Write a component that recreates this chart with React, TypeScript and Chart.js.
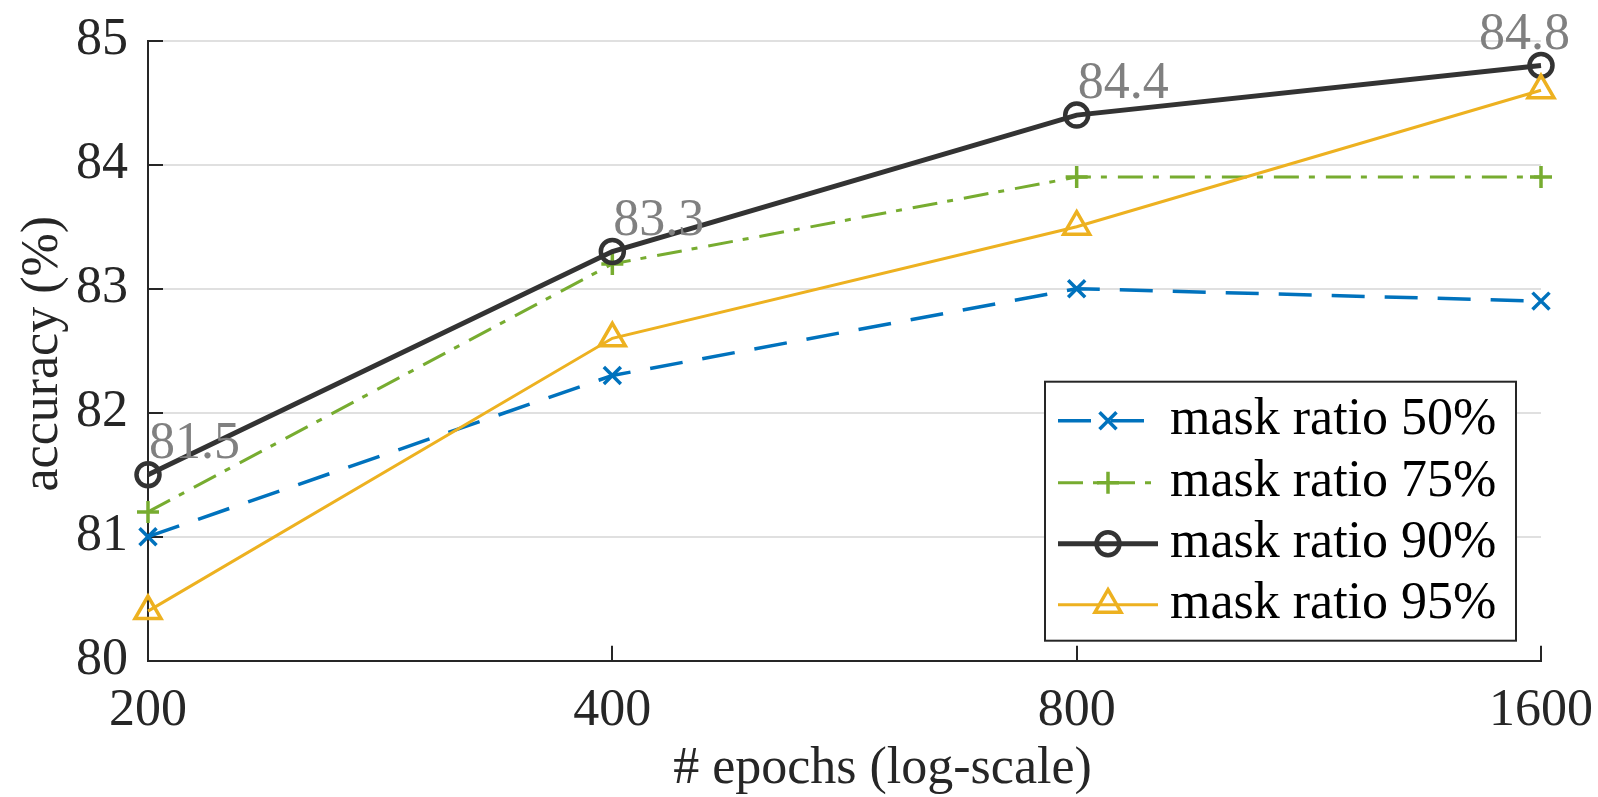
import React, { useEffect, useRef } from 'react';
import { Chart, registerables } from 'chart.js';

Chart.register(...registerables);

// ---- data ----
const epochs = [200, 400, 800, 1600];
const maskRatio50 = [81.0, 82.3, 83.0, 82.9];
const maskRatio75 = [81.2, 83.2, 83.9, 83.9];
const maskRatio90 = [81.5, 83.3, 84.4, 84.8];
const maskRatio95 = [80.4, 82.6, 83.5, 84.6];
const seriesLabels = ['mask ratio 50%', 'mask ratio 75%', 'mask ratio 90%', 'mask ratio 95%'];
const xTickValues = [200, 400, 800, 1600];
const yTickValues = [80, 81, 82, 83, 84, 85];
const annotatedSeries = maskRatio90;
const xAxisTitle = '# epochs (log-scale)';
const yAxisTitle = 'accuracy (%)';

// ---- styles ----
const FONT = '"Liberation Serif", "Times New Roman", Times, serif';
const AXIS_COLOR = '#262626';
const GRID_COLOR = '#e0e0e0';
const LABEL_GRAY = '#808080';
const FONT_SIZE = 52;
const TARGET_AREA = { left: 148, top: 40.7, right: 1541, bottom: 660.7 };

const seriesStyles = [
  { color: '#0072BD', dash: [33, 20], width: 3.5, pointStyle: 'crossRot', radius: 12, pointWidth: 3.5, order: 4, legendEnd: 100 },
  { color: '#77AC30', dash: [25, 10, 6, 11], width: 3, pointStyle: 'cross', radius: 11, pointWidth: 3.5, order: 3, legendEnd: 113 },
  { color: '#333333', dash: [], width: 5, pointStyle: 'circle', radius: 11.5, pointWidth: 4.5, order: 2, legendEnd: 113 },
  { color: '#EDB120', dash: [], width: 3, pointStyle: 'triangle', radius: 15, pointWidth: 3.5, order: 1, legendEnd: 113 },
];
const seriesValues = [maskRatio50, maskRatio75, maskRatio90, maskRatio95];

function drawMarker(ctx: CanvasRenderingContext2D, style: string, r: number, x: number, y: number) {
  ctx.beginPath();
  if (style === 'circle') {
    ctx.arc(x, y, r, 0, Math.PI * 2);
  } else if (style === 'cross') {
    ctx.moveTo(x - r, y);
    ctx.lineTo(x + r, y);
    ctx.moveTo(x, y - r);
    ctx.lineTo(x, y + r);
  } else if (style === 'crossRot') {
    const o = r * Math.SQRT1_2;
    ctx.moveTo(x - o, y - o);
    ctx.lineTo(x + o, y + o);
    ctx.moveTo(x - o, y + o);
    ctx.lineTo(x + o, y - o);
  } else if (style === 'triangle') {
    for (let k = 0; k < 3; k++) {
      const a = (k * 2 * Math.PI) / 3;
      const px = x + Math.sin(a) * r;
      const py = y - Math.cos(a) * r;
      if (k === 0) ctx.moveTo(px, py);
      else ctx.lineTo(px, py);
    }
    ctx.closePath();
  }
  ctx.stroke();
}

const decorPlugin = {
  id: 'decor',
  beforeDatasetsDraw(chart: any) {
    const { ctx, chartArea, scales } = chart;
    const xs = scales.x;
    const ys = scales.y;
    ctx.save();
    ctx.strokeStyle = AXIS_COLOR;
    ctx.lineWidth = 2;
    yTickValues.forEach((v) => {
      const py = Math.round(ys.getPixelForValue(v));
      ctx.beginPath();
      ctx.moveTo(chartArea.left, py);
      ctx.lineTo(chartArea.left + 15, py);
      ctx.stroke();
    });
    xTickValues.forEach((v) => {
      const px = Math.round(xs.getPixelForValue(v));
      ctx.beginPath();
      ctx.moveTo(px, chartArea.bottom);
      ctx.lineTo(px, chartArea.bottom - 15);
      ctx.stroke();
    });
    ctx.restore();
  },
  afterDatasetsDraw(chart: any) {
    const { ctx, scales } = chart;
    const xs = scales.x;
    const ys = scales.y;
    ctx.save();
    ctx.font = `${FONT_SIZE}px ${FONT}`;
    ctx.fillStyle = LABEL_GRAY;
    ctx.textBaseline = 'alphabetic';
    annotatedSeries.forEach((v, i) => {
      const px = xs.getPixelForValue(epochs[i]);
      const py = ys.getPixelForValue(v);
      const last = i === epochs.length - 1;
      ctx.textAlign = last ? 'right' : 'left';
      ctx.fillText(v.toFixed(1), last ? px + 29 : px + 1, py - 17);
    });
    ctx.restore();
  },
  afterDraw(chart: any) {
    const { ctx, chartArea } = chart;
    ctx.save();
    // axis titles
    ctx.fillStyle = AXIS_COLOR;
    ctx.font = `${FONT_SIZE}px ${FONT}`;
    ctx.textAlign = 'center';
    ctx.textBaseline = 'alphabetic';
    ctx.fillText(xAxisTitle, (chartArea.left + chartArea.right) / 2 + 38, chartArea.bottom + 122);
    ctx.save();
    ctx.translate(57, (chartArea.top + chartArea.bottom) / 2 + 3);
    ctx.rotate(-Math.PI / 2);
    ctx.fillText(yAxisTitle, 0, 0);
    ctx.restore();

    // legend
    const right = chartArea.right - 25;
    const left = right - 471;
    const bottom = chartArea.bottom - 20;
    const top = bottom - 259;
    ctx.fillStyle = '#ffffff';
    ctx.fillRect(left, top, right - left, bottom - top);
    ctx.strokeStyle = AXIS_COLOR;
    ctx.lineWidth = 2;
    ctx.strokeRect(left, top, right - left, bottom - top);
    const rowY = [39, 101, 162, 223];
    seriesLabels.forEach((label, i) => {
      const st = seriesStyles[i];
      const cy = top + rowY[i];
      const x0 = left + 13;
      const x1 = left + st.legendEnd;
      const mx = left + 63;
      ctx.save();
      ctx.strokeStyle = st.color;
      ctx.lineWidth = st.width;
      ctx.setLineDash(st.dash);
      ctx.beginPath();
      ctx.moveTo(x0, cy);
      ctx.lineTo(x1, cy);
      ctx.stroke();
      ctx.setLineDash([]);
      ctx.lineWidth = st.pointWidth;
      drawMarker(ctx, st.pointStyle, st.radius, mx, cy);
      ctx.restore();
      ctx.fillStyle = '#000000';
      ctx.font = `${FONT_SIZE}px ${FONT}`;
      ctx.textAlign = 'left';
      ctx.textBaseline = 'middle';
      ctx.fillText(label, left + 125, cy);
    });
    ctx.restore();
  },
};

export default function App() {
  const canvasRef = useRef<HTMLCanvasElement | null>(null);

  useEffect(() => {
    if (!canvasRef.current) return;
    const datasets = seriesValues.map((vals, i) => {
      const st = seriesStyles[i];
      return {
        label: seriesLabels[i],
        data: epochs.map((e, j) => ({ x: e, y: vals[j] })),
        borderColor: st.color,
        backgroundColor: 'rgba(0,0,0,0)',
        borderWidth: st.width,
        borderDash: st.dash,
        pointStyle: st.pointStyle,
        pointRadius: st.radius,
        pointHoverRadius: st.radius,
        pointBorderWidth: st.pointWidth,
        pointBorderColor: st.color,
        pointBackgroundColor: 'rgba(0,0,0,0)',
        tension: 0,
        fill: false,
        clip: false as any,
        order: st.order,
      };
    });

    const chart = new Chart(canvasRef.current, {
      type: 'line',
      data: { datasets },
      options: {
        animation: false,
        responsive: false,
        devicePixelRatio: 1,
        events: [],
        layout: { padding: { left: 0, top: TARGET_AREA.top, right: 1598 - TARGET_AREA.right, bottom: 0 } },
        plugins: {
          legend: { display: false },
          tooltip: { enabled: false },
          title: { display: false },
        },
        scales: {
          x: {
            type: 'logarithmic',
            min: 200,
            max: 1600,
            afterBuildTicks: (s: any) => {
              s.ticks = xTickValues.map((v) => ({ value: v }));
            },
            afterFit: (s: any) => {
              s.height = 797 - TARGET_AREA.bottom;
              s.paddingLeft = 0;
              s.paddingRight = 0;
              s.paddingTop = 0;
              s.paddingBottom = 0;
            },
            ticks: {
              autoSkip: false,
              maxRotation: 0,
              minRotation: 0,
              padding: 19,
              color: AXIS_COLOR,
              font: { family: FONT, size: FONT_SIZE },
              callback: (v: any) => String(v),
            },
            grid: { display: true, color: 'rgba(0,0,0,0)', drawTicks: false },
            border: { display: true, color: AXIS_COLOR, width: 2 },
          },
          y: {
            type: 'linear',
            min: 80,
            max: 85,
            afterBuildTicks: (s: any) => {
              s.ticks = yTickValues.map((v) => ({ value: v }));
            },
            afterFit: (s: any) => {
              s.width = TARGET_AREA.left;
              s.paddingLeft = 0;
              s.paddingRight = 0;
              s.paddingTop = 0;
              s.paddingBottom = 0;
            },
            ticks: {
              padding: 20,
              color: AXIS_COLOR,
              font: { family: FONT, size: FONT_SIZE },
              callback: (v: any) => String(v),
            },
            grid: { display: true, color: GRID_COLOR, lineWidth: 2, drawTicks: false },
            border: { display: true, color: AXIS_COLOR, width: 2 },
          },
        },
      } as any,
      plugins: [decorPlugin],
    });

    return () => {
      chart.destroy();
    };
  }, []);

  return (
    <div style={{ position: 'fixed', left: 0, top: 0, width: 1598, height: 797, background: '#ffffff' }}>
      <canvas ref={canvasRef} width={1598} height={797} style={{ display: 'block' }} />
    </div>
  );
}
